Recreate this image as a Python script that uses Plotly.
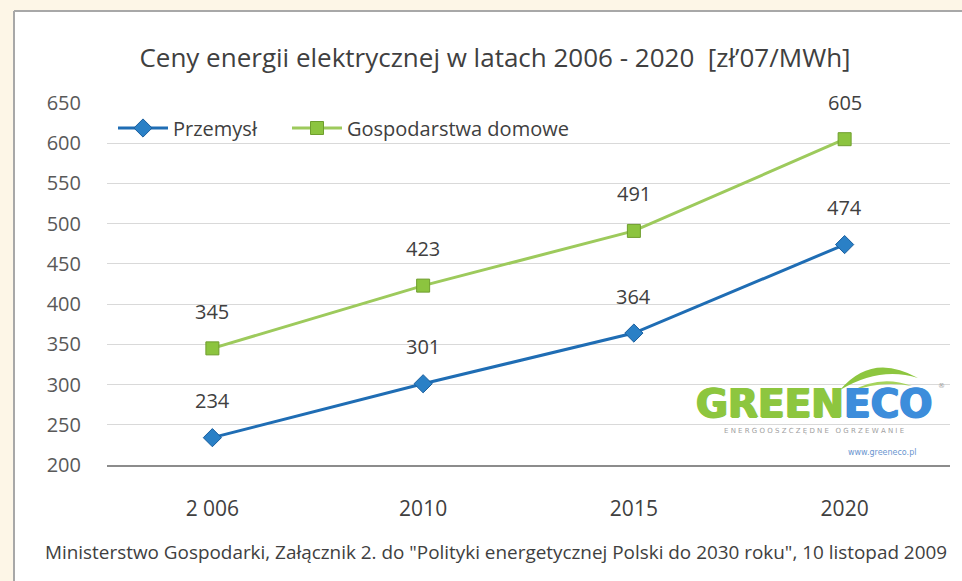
import plotly.graph_objects as go

years = ["2 006", "2010", "2015", "2020"]
przemysl = [234, 301, 364, 474]
gospodarstwa = [345, 423, 491, 605]
y_ticks = [200, 250, 300, 350, 400, 450, 500, 550, 600, 650]

title_text = "Ceny energii elektrycznej w latach 2006 - 2020  [zł’07/MWh]"
source_text = ('Ministerstwo Gospodarki, Załącznik 2. do "Polityki energetycznej Polski do 2030 roku", '
               '10 listopad 2009')

W, H = 962, 581
L, R, T, B = 107, 12, 103, 116
PW = W - L - R
PH = H - T - B


def px(x):
    return (x - L) / PW


def py(y):
    return (H - B - y) / PH


FONT = "Open Sans"
BLUE_LINE = "#1f6db4"
BLUE_MARK = "#2a80c6"
GREEN_LINE = "#9dca5c"
GREEN_MARK = "#8cc43f"
CREAM = "#fdf6e7"

fig = go.Figure()
fig.add_trace(go.Scatter(
    x=years, y=przemysl, name="Przemysł", mode="lines+markers", legend="legend",
    line=dict(color=BLUE_LINE, width=3),
    marker=dict(symbol="diamond", size=14, color=BLUE_MARK, line=dict(color="#1a5e9e", width=1)),
))
fig.add_trace(go.Scatter(
    x=years, y=gospodarstwa, name="Gospodarstwa domowe", mode="lines+markers", legend="legend2",
    line=dict(color=GREEN_LINE, width=3),
    marker=dict(symbol="square", size=13, color=GREEN_MARK, line=dict(color="#6f9e2e", width=1)),
))

annotations = []
for series in (przemysl, gospodarstwa):
    for i, yv in enumerate(series):
        annotations.append(dict(
            x=i, y=yv, xref="x", yref="y", text=str(yv), showarrow=False, yshift=37,
            font=dict(family=FONT, size=20, color="#404040"),
        ))

annotations.append(dict(
    xref="paper", yref="paper", x=px(43), y=py(552), xanchor="left", yanchor="middle",
    text=source_text, showarrow=False, font=dict(family=FONT, size=18.9, color="#404040"),
))

# logo
annotations.append(dict(
    xref="paper", yref="paper", x=px(846), y=py(403), xanchor="right", yanchor="middle",
    text="<b>GREEN</b>", showarrow=False,
    font=dict(family="DejaVu Sans", size=39, color="#8dc63f",
              shadow="1px 0px 0px #8dc63f, -1px 0px 0px #8dc63f, 0px 1px 0px #8dc63f"),
))
annotations.append(dict(
    xref="paper", yref="paper", x=px(842), y=py(403), xanchor="left", yanchor="middle",
    text="<b>ECO</b>", showarrow=False,
    font=dict(family="DejaVu Sans", size=39, color="#3d8ddb",
              shadow="1px 0px 0px #3d8ddb, -1px 0px 0px #3d8ddb, 0px 1px 0px #3d8ddb"),
))
annotations.append(dict(
    xref="paper", yref="paper", x=px(941), y=py(386), xanchor="center", yanchor="middle",
    text="®", showarrow=False, font=dict(family="DejaVu Sans", size=7, color="#9a9a9a"),
))
annotations.append(dict(
    xref="paper", yref="paper", x=px(814), y=py(431), xanchor="center", yanchor="middle",
    text="E N E R G O O S Z C Z Ę D N E   O G R Z E W A N I E", showarrow=False,
    font=dict(family="DejaVu Sans", size=7, color="#a0a0a0"),
))
annotations.append(dict(
    xref="paper", yref="paper", x=px(882), y=py(452), xanchor="center", yanchor="middle",
    text="www.greeneco.pl", showarrow=False,
    font=dict(family="DejaVu Sans", size=8, color="#6a95cf"),
))


def leaf_path(pts):
    s = "M {} {}".format(px(pts[0][0]), py(pts[0][1]))
    for i in range(1, len(pts), 2):
        s += " Q {} {} {} {}".format(px(pts[i][0]), py(pts[i][1]), px(pts[i + 1][0]), py(pts[i + 1][1]))
    return s + " Z"


shapes = [
    # cream surround (left and top)
    dict(type="rect", xref="paper", yref="paper", x0=px(-5), x1=px(14), y0=py(600), y1=py(-5),
         fillcolor=CREAM, line=dict(width=0), layer="below"),
    dict(type="rect", xref="paper", yref="paper", x0=px(-5), x1=px(970), y0=py(11), y1=py(-5),
         fillcolor=CREAM, line=dict(width=0), layer="below"),
    # card border
    dict(type="line", xref="paper", yref="paper", x0=px(14), x1=px(970), y0=py(11), y1=py(11),
         line=dict(color="#a8a8a8", width=2), layer="below"),
    dict(type="line", xref="paper", yref="paper", x0=px(14), x1=px(14), y0=py(11), y1=py(600),
         line=dict(color="#a8a8a8", width=2), layer="below"),
    # logo background
    dict(type="rect", xref="paper", yref="paper", x0=px(688), x1=px(950), y0=py(462), y1=py(356),
         fillcolor="white", line=dict(width=0), layer="between"),
    # leaf
    dict(type="path", xref="paper", yref="paper",
         path=leaf_path([(840, 390), (872, 352), (918, 378), (880, 366), (840, 390)]),
         fillcolor="#8dc63f", line=dict(width=0), layer="above"),
    dict(type="path", xref="paper", yref="paper",
         path=leaf_path([(850, 392), (880, 374), (912, 386), (880, 380), (850, 392)]),
         fillcolor="#a6d45c", line=dict(width=0), layer="above"),
]

legend_font = dict(family=FONT, size=20, color="#404040")
fig.update_layout(
    width=W, height=H,
    margin=dict(l=L, r=R, t=T, b=B),
    paper_bgcolor="white",
    plot_bgcolor="rgba(0,0,0,0)",
    title=dict(text=title_text, x=495 / W, xref="container", xanchor="center",
               y=1 - 58 / H, yref="container", yanchor="middle",
               font=dict(family=FONT, size=26, color="#404040")),
    legend=dict(orientation="h", x=px(113), y=py(128), xanchor="left", yanchor="middle",
                bgcolor="rgba(0,0,0,0)", font=legend_font, itemwidth=50),
    legend2=dict(orientation="h", x=px(287), y=py(128), xanchor="left", yanchor="middle",
                 bgcolor="rgba(0,0,0,0)", font=legend_font, itemwidth=50),
    showlegend=True,
    annotations=annotations,
    shapes=shapes,
)
fig.update_xaxes(
    type="category", categoryorder="array", categoryarray=years, range=[-0.5, 3.5],
    showgrid=False, showline=True, linecolor="#8c8c8c", linewidth=1.5,
    ticks="", ticklabelstandoff=24,
    tickfont=dict(family=FONT, size=21, color="#404040"),
)
fig.update_yaxes(
    range=[200, 650], tickvals=y_ticks, showgrid=True, gridcolor="#d9d9d9", gridwidth=1,
    zeroline=False, showline=False, ticks="", ticklabelstandoff=25,
    tickfont=dict(family=FONT, size=20, color="#595959"),
)

fig.write_html(
    "out.html",
    config={"displayModeBar": False},
    post_script="document.body.style.margin='0px';document.body.style.overflow='hidden';",
)
